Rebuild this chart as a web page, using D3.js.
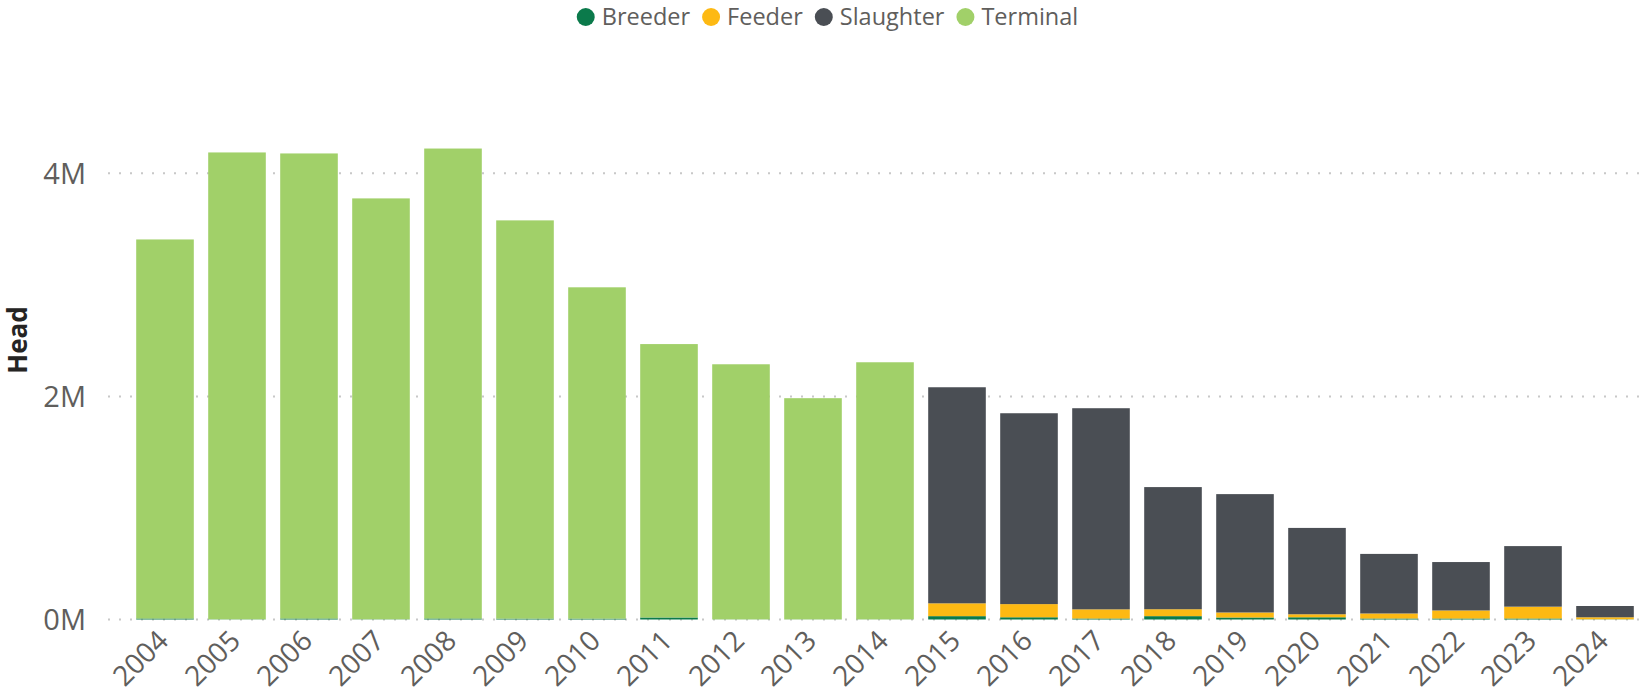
<!DOCTYPE html>
<html>
<head>
<meta charset="utf-8">
<script src="https://cdn.jsdelivr.net/npm/d3@7"></script>
<style>
  html, body { margin: 0; padding: 0; background: #ffffff; }
  svg { display: block; font-family: "Open Sans", "Noto Sans", sans-serif; }
</style>
</head>
<body>
<svg id="chart" width="1652" height="694"></svg>
<script>
// ---- data ----
const years = ["2004","2005","2006","2007","2008","2009","2010","2011","2012","2013","2014",
               "2015","2016","2017","2018","2019","2020","2021","2022","2023","2024"];
const seriesNames = ["Breeder", "Feeder", "Slaughter", "Terminal"];
const breeder   = [9000, 2000, 9000, 2000, 9000, 8000, 8000, 18000, 1000, 1000, 1000,
                   30000, 20000, 9000, 30000, 18000, 20000, 9000, 9000, 9000, 2000];
const feeder    = [0, 0, 0, 0, 0, 0, 0, 0, 0, 0, 0,
                   115000, 118000, 82000, 62000, 45000, 27000, 45000, 72000, 106000, 18000];
const slaughter = [0, 0, 0, 0, 0, 0, 0, 0, 0, 0, 0,
                   1937000, 1711000, 1803000, 1095000, 1061000, 774000, 534000, 434000, 543000, 101000];
const terminal  = [3398000, 4185000, 4169000, 3773000, 4213000, 3570000, 2970000, 2451000, 2287000, 1983000, 2305000,
                   0, 0, 0, 0, 0, 0, 0, 0, 0, 0];
const yTicks = [0, 2000000, 4000000];
const yTitle = "Head";
const colors = ["#0B7A4B", "#FDB913", "#4A4E54", "#A1D069"];

// ---- build table ----
const valuesBySeries = [breeder, feeder, slaughter, terminal];
const table = years.map((yr, i) => {
  const row = { year: yr };
  seriesNames.forEach((s, k) => row[s] = valuesBySeries[k][i]);
  return row;
});
const stacked = d3.stack().keys(seriesNames)(table);

const svg = d3.select("#chart");
const plotLeft = 108, plotRight = 1643;
const x = d3.scaleBand().domain(years).range([129, 1641]).paddingInner(0.2).paddingOuter(0.1);
const y = d3.scaleLinear().domain([0, 4000000]).range([619.5, 173.3]);
const color = d3.scaleOrdinal().domain(seriesNames).range(colors);

// gridlines
svg.append("g").selectAll("line").data(yTicks).join("line")
  .attr("x1", plotLeft).attr("x2", plotRight)
  .attr("y1", d => y(d)).attr("y2", d => y(d))
  .attr("stroke", "#c8c8c8").attr("stroke-width", 2)
  .attr("stroke-dasharray", "2,9");

// bars
svg.append("g").selectAll("g").data(stacked).join("g")
  .attr("fill", d => color(d.key))
  .selectAll("rect").data(d => d).join("rect")
  .attr("x", d => x(d.data.year))
  .attr("width", x.bandwidth())
  .attr("y", d => y(d[1]))
  .attr("height", d => Math.max(0, y(d[0]) - y(d[1])));

// y axis
const yAxis = svg.append("g").attr("transform", `translate(${plotLeft},0)`)
  .call(d3.axisLeft(y).tickValues(yTicks).tickSize(0).tickPadding(22)
        .tickFormat(d => (d / 1e6) + "M"));
yAxis.select(".domain").remove();
yAxis.selectAll("text").attr("font-size", 29).attr("fill", "#605E5C")
  .attr("font-family", "'Open Sans', sans-serif").attr("dy", "0.35em");

// x axis
const xAxis = svg.append("g").attr("transform", `translate(0,619.5)`)
  .call(d3.axisBottom(x).tickSize(0));
xAxis.select(".domain").remove();
xAxis.selectAll("text")
  .attr("font-size", 28).attr("fill", "#605E5C")
  .attr("font-family", "'Open Sans', sans-serif")
  .attr("x", 0).attr("y", 0).attr("dy", 0)
  .attr("text-anchor", "end")
  .attr("transform", "translate(5,23) rotate(-45)");

// y title
svg.append("text")
  .attr("transform", "translate(27,340) rotate(-90)")
  .attr("text-anchor", "middle")
  .attr("font-size", 26).attr("font-weight", "bold").attr("fill", "#252423")
  .text(yTitle);

// legend
const legend = svg.append("g");
let cursor = 0;
seriesNames.forEach((s, k) => {
  const g = legend.append("g").attr("transform", `translate(${cursor},0)`);
  g.append("circle").attr("cx", 9).attr("cy", 17).attr("r", 9).attr("fill", color(s));
  const t = g.append("text").attr("x", 25).attr("y", 17).attr("dy", "0.35em")
    .attr("font-size", 23.5).attr("fill", "#605E5C").text(s);
  cursor += 25 + t.node().getComputedTextLength() + 12;
});
const legendWidth = cursor - 12;
legend.attr("transform", `translate(${827.5 - legendWidth / 2},0)`);
</script>
</body>
</html>
